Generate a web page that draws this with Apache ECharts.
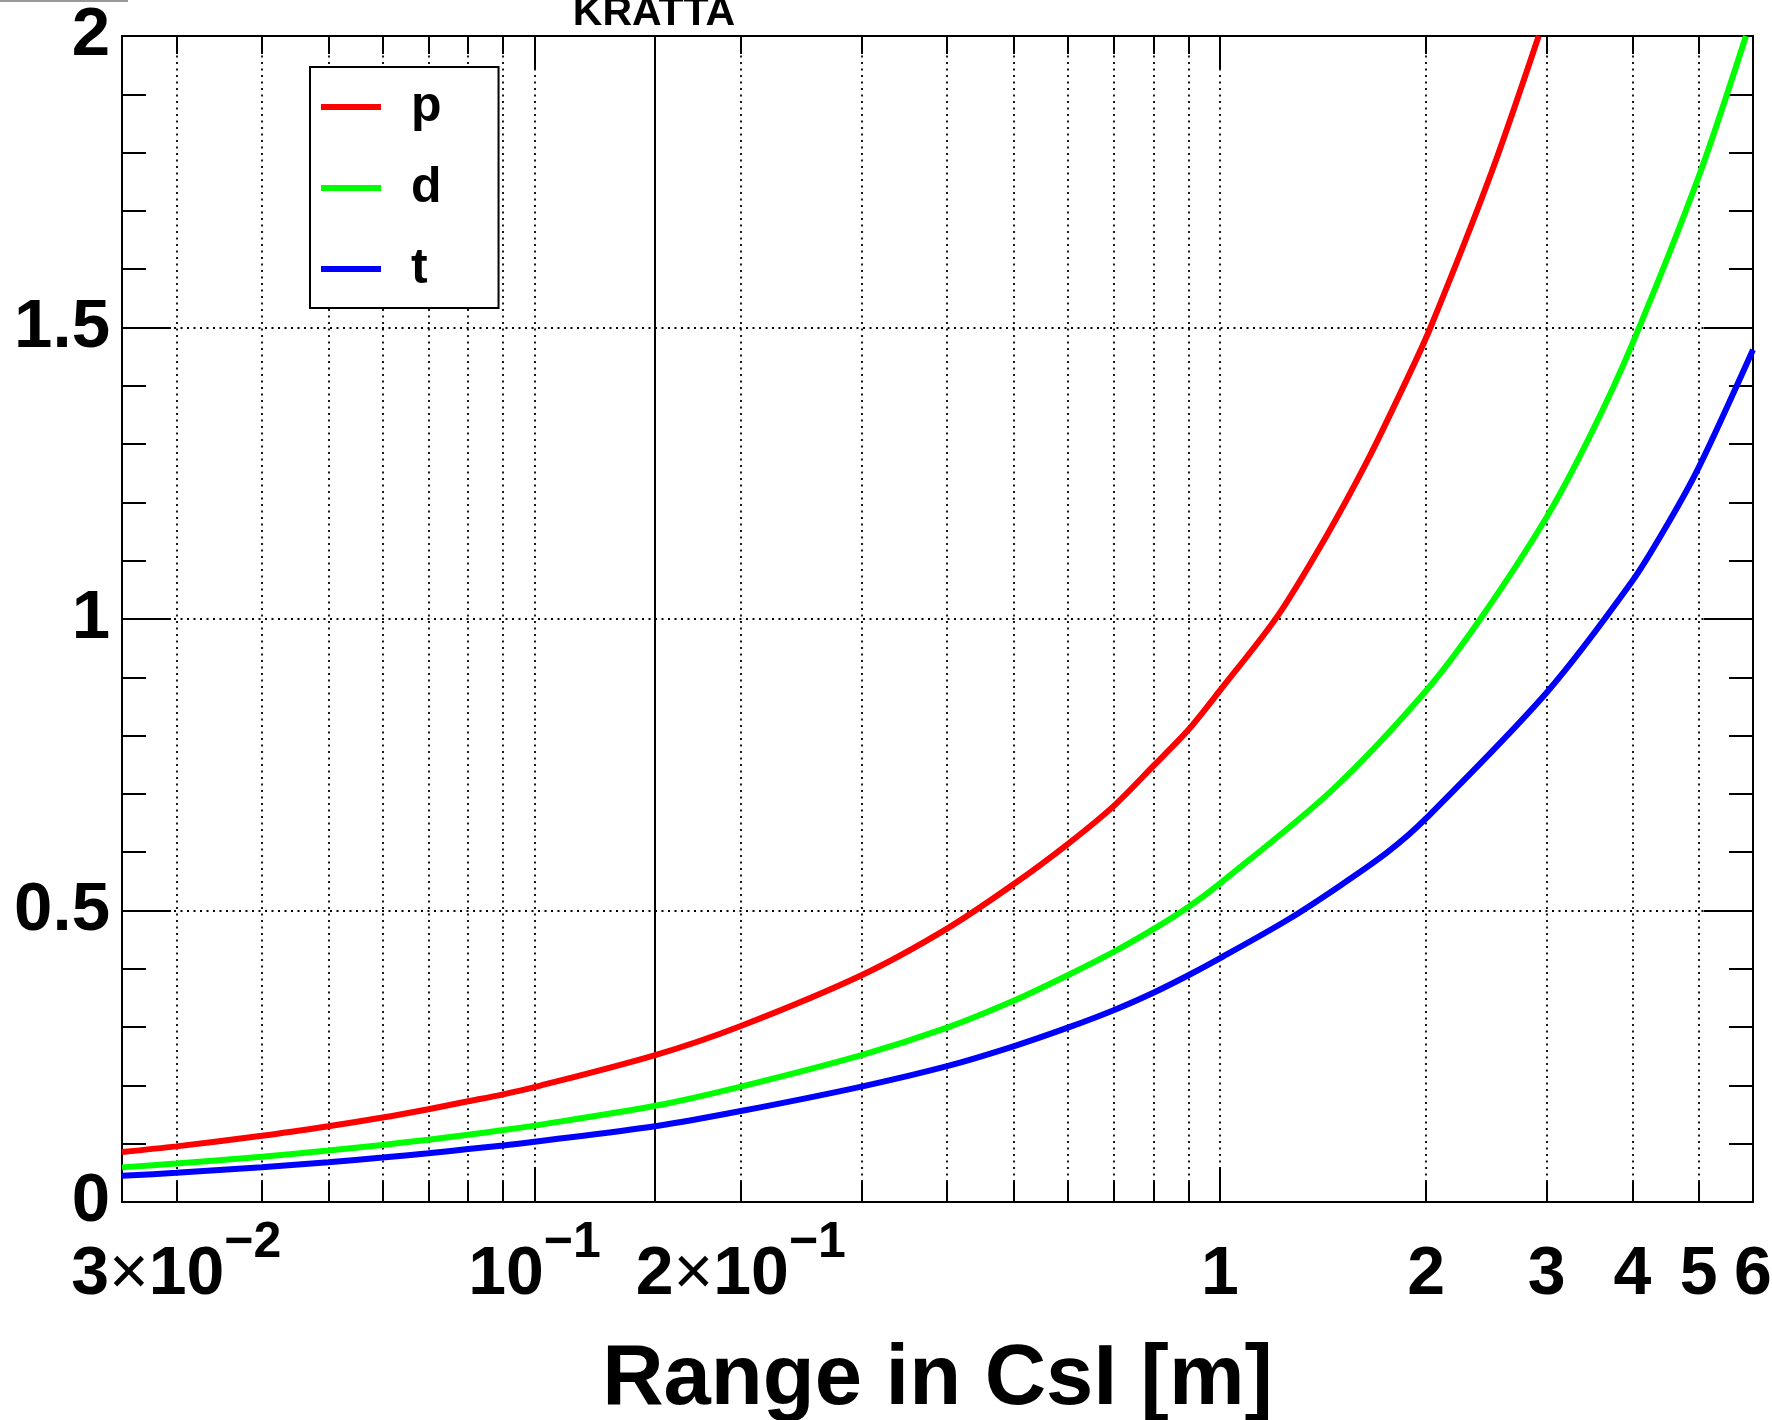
<!DOCTYPE html>
<html><head><meta charset="utf-8">
<script src="https://cdn.jsdelivr.net/npm/echarts@6/dist/echarts.min.js"></script>
<style>html,body{margin:0;padding:0;background:#fff}#c{width:1772px;height:1420px}</style>
</head><body><div id="c"></div>
<script>
// ---- data ----
const rangeP  = [0.025,0.03,0.04,0.05,0.06,0.07,0.08,0.09,0.1,0.15,0.2,0.3,0.4,0.5,0.6,0.7,0.8,0.9,1.0,1.214,1.432,1.643,1.87,2.03,2.49,2.92];
const energyP = [0.0857,0.0954,0.1136,0.130,0.1449,0.1592,0.1727,0.1847,0.197,0.252,0.302,0.389,0.469,0.545,0.614,0.679,0.748,0.810,0.877,1.005,1.143,1.272,1.408,1.50,1.765,2.0];
const rangeD  = [0.025,0.03,0.04,0.05,0.06,0.07,0.08,0.09,0.1,0.15,0.2,0.3,0.4,0.5,0.6,0.7,0.8,0.9,1.0,1.46,2.0,2.4,3.0,3.48,4.0,5.0,5.86];
const energyD = [0.0594,0.066,0.0777,0.0882,0.0979,0.1069,0.1154,0.1234,0.131,0.165,0.198,0.252,0.299,0.345,0.389,0.429,0.468,0.506,0.546,0.707,0.877,1.0,1.175,1.317,1.472,1.759,2.0];
const rangeT  = [0.025,0.03,0.04,0.05,0.06,0.07,0.08,0.09,0.1,0.15,0.2,0.3,0.4,0.5,0.6,0.7,0.8,0.9,1.0,1.26,1.5,1.757,2.0,3.0,4.0,4.5,5.0,6.0];
const energyT = [0.0449,0.0501,0.0597,0.0683,0.0763,0.0835,0.0910,0.0970,0.1035,0.130,0.156,0.198,0.233,0.267,0.299,0.329,0.359,0.389,0.418,0.485,0.543,0.600,0.658,0.874,1.065,1.162,1.26,1.462];
const seriesNames = ['p','d','t'];
const seriesColors = ['#ff0000','#00ff00','#0000ff'];
const xMinorTicks = [0.03,0.04,0.05,0.06,0.07,0.08,0.09,0.1,0.2,0.3,0.4,0.5,0.6,0.7,0.8,0.9,1,2,3,4,5];
const xMajorTicks = [0.1,1];
const xLabelValues = [0.03,0.1,0.2,1,2,3,4,5,6];
const xLabelTexts = ['{m|3}{x|×}{m|10}{s|−2}','{m|10}{s|−1}','{m|2}{x|×}{m|10}{s|−1}','{m|1}','{m|2}','{m|3}','{m|4}','{m|5}','{m|6}'];
const markerRange = 0.15;
const titleText = 'KRATTA';
const xTitle = 'Range in CsI [m]';

const FONT = "'Liberation Sans', Arial, Helvetica, sans-serif";
const zip = (a, b) => a.map((v, i) => [v, b[i]]);
const tickStyle = {color: '#000', width: 2};
const dotted = {color: '#000', width: 1.8, type: [2, 4.5]};

function xAxisCfg(position, ticks, len, showLine) {
  return {
    type: 'log', logBase: 10, min: 0.025, max: 6, position: position, gridIndex: 0,
    axisLine: {show: showLine, onZero: false, lineStyle: {color: '#000', width: 2}},
    axisTick: {show: true, inside: true, length: len, customValues: ticks, lineStyle: tickStyle},
    axisLabel: {show: false},
    splitLine: {show: false},
    minorTick: {show: false}, minorSplitLine: {show: false}
  };
}
function yAxisCfg(position, showLabel, showSplit) {
  return {
    type: 'value', min: 0, max: 2, interval: 0.5, position: position, gridIndex: 0,
    axisLine: {show: true, onZero: false, lineStyle: {color: '#000', width: 2}},
    axisTick: {show: true, inside: true, length: 49, lineStyle: tickStyle},
    minorTick: {show: true, splitNumber: 5, length: 24, lineStyle: tickStyle},
    axisLabel: {show: showLabel, margin: 12, fontSize: 69, fontWeight: 'bold', color: '#000', fontFamily: FONT, padding: [10, 0, 0, 0]},
    splitLine: {show: showSplit, lineStyle: dotted},
    minorSplitLine: {show: false}
  };
}

const xMain = xAxisCfg('bottom', xMinorTicks, 20, true);
xMain.axisLabel = {
  show: true, inside: false, margin: 28, customValues: xLabelValues, color: '#000',
  formatter: function (v) {
    for (let i = 0; i < xLabelValues.length; i++) {
      if (Math.abs(v - xLabelValues[i]) / xLabelValues[i] < 1e-6) return xLabelTexts[i];
    }
    return '';
  },
  rich: {
    m: {fontSize: 68, fontWeight: 'bold', lineHeight: 91, color: '#000', fontFamily: FONT},
    x: {fontSize: 68, fontWeight: 'normal', lineHeight: 91, color: '#000', fontFamily: FONT},
    s: {fontSize: 50, fontWeight: 'bold', lineHeight: 26, padding: [0, 0, 65, 0], color: '#000', fontFamily: FONT}
  }
};
xMain.splitLine = {show: true, lineStyle: dotted};
xMain.name = xTitle;
xMain.nameLocation = 'middle';
xMain.nameGap = 131;
xMain.nameTextStyle = {fontSize: 85, fontWeight: 'bold', color: '#000', fontFamily: FONT};

const series = [[rangeP, energyP], [rangeD, energyD], [rangeT, energyT]].map((d, i) => ({
  name: seriesNames[i], type: 'line', xAxisIndex: 0, yAxisIndex: 0,
  data: zip(d[0], d[1]), showSymbol: false, symbol: 'none', smooth: 0.3, clip: true,
  lineStyle: {color: seriesColors[i], width: 6}, itemStyle: {color: seriesColors[i]},
  z: 5, animation: false
}));
series[0].markLine = {
  silent: true, symbol: ['none', 'none'], label: {show: false}, animation: false,
  lineStyle: {color: '#000', width: 2, type: 'solid'},
  data: [{xAxis: markerRange}]
};

const chart = echarts.init(document.getElementById('c'), null, {renderer: 'canvas'});
chart.setOption({
  backgroundColor: '#fff',
  animation: false,
  grid: {left: 122, top: 36, right: 19, bottom: 218, outerBoundsMode: 'none', containLabel: false},
  xAxis: [xMain, xAxisCfg('bottom', xMajorTicks, 35, false), xAxisCfg('top', xMinorTicks, 18, true), xAxisCfg('top', xMajorTicks, 33, false)],
  yAxis: [yAxisCfg('left', true, true), yAxisCfg('right', false, false)],
  legend: {
    show: true, orient: 'vertical', left: 310, top: 67,
    data: seriesNames, icon: 'rect', itemWidth: 60, itemHeight: 6, itemGap: 31,
    padding: [15, 57, 14, 11], backgroundColor: '#fff', borderColor: '#000', borderWidth: 2, borderRadius: 0,
    textStyle: {fontSize: 50, fontWeight: 'bold', color: '#000', fontFamily: FONT, padding: [16, 0, 0, 25]},
    selectedMode: false
  },
  graphic: [
    {type: 'text', x: 654, y: -7, style: {text: titleText, fontSize: 41, fontWeight: 'bold', fill: '#000', fontFamily: FONT, align: 'center', verticalAlign: 'top'}},
    {type: 'line', shape: {x1: 0, y1: 1, x2: 128, y2: 1}, style: {stroke: '#999', lineWidth: 2}}
  ],
  series: series
});
</script></body></html>
